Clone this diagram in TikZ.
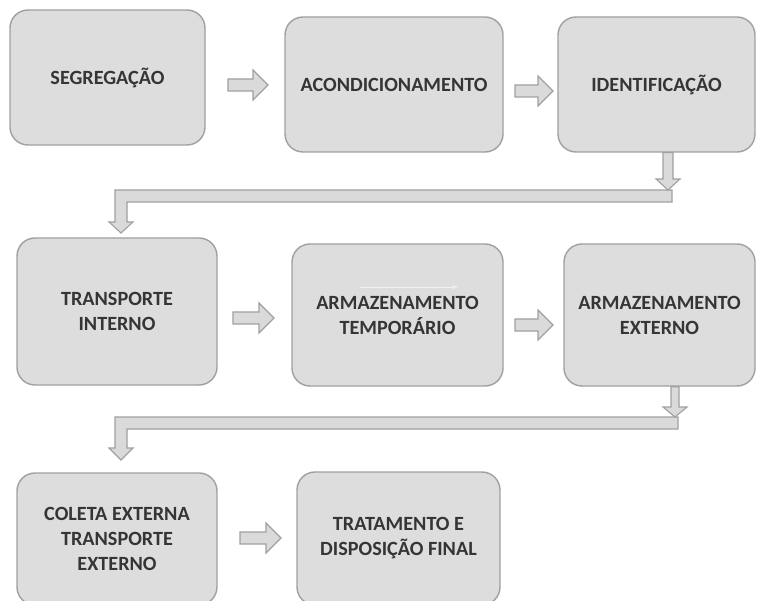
\documentclass[tikz,border=0pt]{standalone}
\usepackage{fontspec}
\setmainfont{Carlito}
\usetikzlibrary{calc}
\definecolor{boxfill}{HTML}{DDDDDD}
\definecolor{boxline}{HTML}{A0A0A0}
\definecolor{arrfill}{HTML}{DADADA}
\definecolor{arrline}{HTML}{A0A0A0}
\definecolor{txt}{HTML}{353535}
% horizontal block arrow: x0, y-centre, length
\newcommand{\harr}[3]{%
  \draw[blockarr] (#1,#2-6) -- (#1+#3-15,#2-6) -- (#1+#3-15,#2-15) -- (#1+#3,#2)
    -- (#1+#3-15,#2+15) -- (#1+#3-15,#2+6) -- (#1,#2+6) -- cycle;}
\tikzset{
  box/.style={draw=boxline, fill=boxfill, line width=1.4pt, rounded corners=18pt,
    text=txt, align=center, inner sep=0pt,
    font=\bfseries\fontsize{20.2}{25}\selectfont},
  blockarr/.style={draw=arrline, fill=arrfill, line width=1.1pt, line join=miter}
}
\begin{document}
\begin{tikzpicture}[x=1pt,y=-1pt]
\useasboundingbox (0,0) rectangle (757,601);
\clip (0,0) rectangle (757,601);
\fill[white] (0,0) rectangle (757,601);

% boxes
\node[box, minimum width=195pt, minimum height=135pt] (seg) at (107.5,77.5) {SEGREGAÇÃO};
\node[box, minimum width=218pt, minimum height=135pt] (aco) at (394,84.5) {ACONDICIONAMENTO};
\node[box, minimum width=197pt, minimum height=135pt] (ide) at (656.5,84.5) {IDENTIFICAÇÃO};
\node[box, minimum width=200pt, minimum height=147pt] (tin) at (117,311.5) {TRANSPORTE\\INTERNO};
\node[box, minimum width=211pt, minimum height=142pt] (atm) at (397.5,315) {ARMAZENAMENTO\\TEMPORÁRIO};
\node[box, minimum width=191pt, minimum height=142pt] (aex) at (659.5,315) {ARMAZENAMENTO\\EXTERNO};
\node[box, minimum width=200pt, minimum height=132pt] (col) at (117,539) {COLETA EXTERNA\\TRANSPORTE\\EXTERNO};
\node[box, minimum width=203pt, minimum height=133pt] (tra) at (398.5,538.5) {TRATAMENTO E\\DISPOSIÇÃO FINAL};

% faint artefact line in box 5
\draw[black!6, line width=0.8pt, -latex] (360,287) -- (458,287);

% horizontal block arrows
\harr{228}{85}{40}
\harr{515}{91}{38}
\harr{233}{318}{41}
\harr{515}{325}{38}
\harr{240}{538}{41}

% bent arrow 1 (identificacao -> transporte interno)
\draw[blockarr] (672,190) -- (115,190) -- (115,222) -- (109,222) -- (121,233)
  -- (133,222) -- (127,222) -- (127,202) -- (672,202) -- cycle;
\draw[blockarr] (ide.south -| 663,0) -- (663,179) -- (656,179) -- (668,190)
  -- (680,179) -- (673,179) -- (ide.south -| 673,0) -- cycle;

% bent arrow 2 (armazenamento externo -> coleta externa)
\draw[blockarr] (678,417) -- (115,417) -- (115,448) -- (109,448) -- (121,460)
  -- (133,448) -- (127,448) -- (127,429) -- (678,429) -- cycle;
\draw[blockarr] (aex.south -| 671,0) -- (671,407) -- (663,407) -- (675,417)
  -- (687,407) -- (679,407) -- (aex.south -| 679,0) -- cycle;
\end{tikzpicture}
\end{document}
